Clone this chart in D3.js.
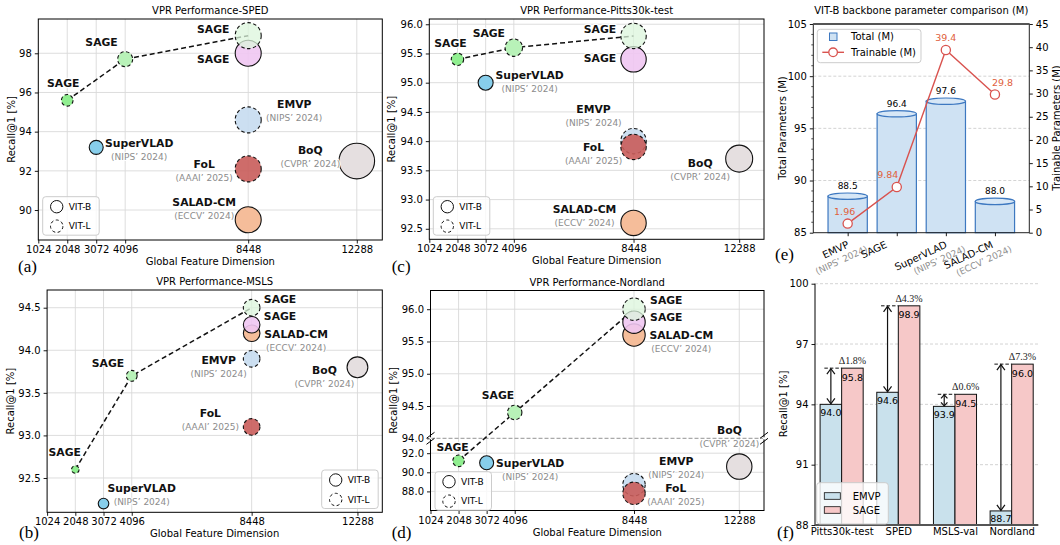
<!DOCTYPE html>
<html><head><meta charset="utf-8">
<script src="https://cdn.jsdelivr.net/npm/d3@7"></script>
<style>body{margin:0;background:#fff}svg{display:block}</style>
</head><body><svg id="c" width="1060" height="545"></svg>
<script>
// ================= DATA =================
const xTicks = [1024, 2048, 3072, 4096, 8448, 12288];
const pointNames  = ["SAGE","SAGE","SAGE","SAGE","EMVP","SuperVLAD","FoL","SALAD-CM","BoQ"];
const pointVenues = ["","","","","(NIPS’ 2024)","(NIPS’ 2024)","(AAAI’ 2025)","(ECCV’ 2024)","(CVPR’ 2024)"];
const pointDims   = [2048, 4096, 8448, 8448, 8448, 3072, 8448, 8448, 12288];
const pointBackbone = ["L","L","L","B","L","B","L","B","B"];
const spedRecall  = [95.6, 97.7, 98.9, 98.0, 94.6, 93.2, 92.1, 89.5, 92.5];
const pittsRecall = [95.4, 95.6, 95.8, 95.4, 94.0, 95.0, 93.9, 92.6, 93.7];
const mslsRecall  = [92.6, 93.7, 94.5, 94.3, 93.9, 92.2, 93.1, 94.2, 93.8];
const nordRecall  = [91.2, 94.4, 96.0, 95.8, 88.7, 91.0, 87.8, 95.6, 90.6];
const legendEntries = ["VIT-B", "VIT-L"];

const paramMethods = ["EMVP", "SAGE", "SuperVLAD", "SALAD-CM"];
const paramVenues  = ["(NIPS’ 2024)", "", "(NIPS’ 2024)", "(ECCV’ 2024)"];
const totalParams     = [88.5, 96.4, 97.6, 88.0];
const trainableParams = [1.96, 9.84, 39.4, 29.8];
const leftTicksE  = [85, 90, 95, 100, 105];
const rightTicksE = [0, 5, 10, 15, 20, 25, 30, 35, 40, 45];

const datasetsF = ["Pitts30k-test", "SPED", "MSLS-val", "Nordland"];
const emvpR1 = [94.0, 94.6, 93.9, 88.7];
const sageR1 = [95.8, 98.9, 94.5, 96.0];
const yTicksF = [88, 91, 94, 97, 100];

// ================= STYLE / LAYOUT =================
const F = '"DejaVu Sans", sans-serif';
const SERIF = '"Liberation Serif", "DejaVu Serif", serif';
const pointFill = ["#90ee90", "#b8f2b8", "#dcf6dc", "#efc6f2", "#c6dcef", "#87ceeb", "#c95c5a", "#f5bd9a", "#e5dfe0"];
const pointOpacity = [1, 1, 0.75, 0.9, 0.9, 1, 0.9, 1, 1];
const drawOrder = [8, 7, 5, 4, 6, 3, 0, 1, 2];
const svg = d3.select("#c");

function txt(g, x, y, s, o = {}) {
  const t = g.append("text").attr("x", x).attr("y", y).text(s)
    .attr("font-size", o.size || 10).attr("text-anchor", o.anchor || "start")
    .attr("fill", o.fill || "#000").attr("font-family", o.family || F);
  if (o.bold) t.attr("font-weight", "bold");
  if (o.halo) t.attr("stroke", "#fff").attr("stroke-width", o.halo).attr("paint-order", "stroke").attr("stroke-linejoin", "round");
  return t;
}
function styleAxis(ax, size) {
  ax.select(".domain").remove();
  ax.selectAll("text").attr("font-family", F).attr("font-size", size || 10).attr("fill", "#000");
  ax.selectAll("line").attr("stroke", "#000").attr("stroke-width", 0.9);
}

const xDomain = [1024, 13190];

function scatterPanel(c) {
  const g = svg.append("g");
  const x = d3.scaleLinear().domain(xDomain).range([c.l, c.r]);
  let y, yU, yL;
  if (c.broken) {
    yU = d3.scaleLinear().domain(c.upper).range([c.mid, c.t]);
    yL = d3.scaleLinear().domain(c.lower).range([c.b, c.mid]);
    y = v => v >= c.upper[0] - 0.01 ? yU(v) : yL(v);
  } else {
    y = d3.scaleLinear().domain(c.yDom).range([c.b, c.t]);
  }
  const rS = d3.scaleLinear().domain(c.rad.map(d => d[0])).range(c.rad.map(d => d[1]));
  const recall = c.values;

  // grid
  const grid = g.append("g").attr("stroke", "#d9d9d9").attr("stroke-width", 0.9);
  xTicks.slice(1).forEach(v => grid.append("line").attr("x1", x(v)).attr("x2", x(v)).attr("y1", c.t).attr("y2", c.b));
  const gy = c.broken ? c.yTicksU.concat(c.yTicksL) : c.yTicks;
  gy.forEach(v => { if (!(c.broken && v === c.upper[0])) grid.append("line").attr("x1", c.l).attr("x2", c.r).attr("y1", y(v)).attr("y2", y(v)); });
  if (c.broken) {
    g.append("line").attr("x1", c.l).attr("x2", c.r).attr("y1", c.mid).attr("y2", c.mid)
      .attr("stroke", "#888").attr("stroke-width", 0.9).attr("stroke-dasharray", "4,2");
  }

  // axes
  const axB = g.append("g").attr("transform", `translate(0,${c.b})`)
    .call(d3.axisBottom(x).tickValues(xTicks).tickFormat(d3.format("d")).tickSize(3.5).tickPadding(2.5));
  styleAxis(axB);
  if (c.broken) {
    const a1 = g.append("g").attr("transform", `translate(${c.l},0)`)
      .call(d3.axisLeft(yU).tickValues(c.yTicksU).tickFormat(d3.format(".1f")).tickSize(3.5).tickPadding(3));
    styleAxis(a1);
    const a2 = g.append("g").attr("transform", `translate(${c.l},0)`)
      .call(d3.axisLeft(yL).tickValues(c.yTicksL).tickFormat(d3.format(".1f")).tickSize(3.5).tickPadding(3));
    styleAxis(a2);
  } else {
    const a1 = g.append("g").attr("transform", `translate(${c.l},0)`)
      .call(d3.axisLeft(y).tickValues(c.yTicks).tickFormat(d3.format(c.yFmt)).tickSize(3.5).tickPadding(3));
    styleAxis(a1);
  }

  // SAGE ViT-L trend line
  const sageIdx = [0, 1, 2];
  g.append("path").attr("d", d3.line().x(i => x(pointDims[i])).y(i => y(recall[i]))(sageIdx))
    .attr("fill", "none").attr("stroke", "#111").attr("stroke-width", 1.5).attr("stroke-dasharray", "5,3");

  // points
  drawOrder.forEach(i => {
    g.append("circle").attr("cx", x(pointDims[i])).attr("cy", y(recall[i])).attr("r", rS(pointDims[i]))
      .attr("fill", pointFill[i]).attr("fill-opacity", pointOpacity[i])
      .attr("stroke", "#111").attr("stroke-width", 1.1)
      .attr("stroke-dasharray", pointBackbone[i] === "L" ? "3.5,2.5" : null);
  });

  // labels
  pointNames.forEach((n, i) => {
    const px = x(pointDims[i]) + c.lab[i][0], py = y(recall[i]) + c.lab[i][1];
    txt(g, px, py, n, { size: 10.8, bold: true, anchor: "middle", halo: 2.5, fill: "#111" });
    if (pointVenues[i]) txt(g, px, py + 13, pointVenues[i], { size: 9, anchor: "middle", fill: "#8c8c8c", halo: 2 });
  });

  // frame
  g.append("rect").attr("x", c.l).attr("y", c.t).attr("width", c.r - c.l).attr("height", c.b - c.t)
    .attr("fill", "none").attr("stroke", "#000").attr("stroke-width", 1);
  if (c.broken) {
    [c.l, c.r].forEach(sx => {
      [-3, 3].forEach(o => {
        g.append("line").attr("x1", sx - 4).attr("y1", c.mid + o + 3).attr("x2", sx + 4).attr("y2", c.mid + o - 3)
          .attr("stroke", "#000").attr("stroke-width", 1);
      });
      g.append("rect").attr("x", sx - 1).attr("y", c.mid - 1).attr("width", 2).attr("height", 2).attr("fill", "#fff");
    });
  }

  // legend
  const lg = g.append("g").attr("transform", `translate(${c.leg[0]},${c.leg[1]})`);
  lg.append("rect").attr("width", 56.5).attr("height", 38.5).attr("rx", 3)
    .attr("fill", "#fff").attr("fill-opacity", 0.8).attr("stroke", "#cccccc");
  legendEntries.forEach((t, k) => {
    lg.append("circle").attr("cx", 14).attr("cy", 10 + k * 19.5).attr("r", 6.2)
      .attr("fill", "none").attr("stroke", "#111").attr("stroke-width", 1)
      .attr("stroke-dasharray", k === 1 ? "3,2.5" : null);
    txt(lg, 26, 13.3 + k * 19.5, t, { size: 9 });
  });

  // titles
  txt(g, (c.l + c.r) / 2, c.t - 5, c.title, { size: 10, anchor: "middle" });
  txt(g, (c.l + c.r) / 2, c.b + 25, "Global Feature Dimension", { size: 10, anchor: "middle" });
  txt(g, 0, 0, "Recall@1 [%]", { size: 10, anchor: "middle" })
    .attr("transform", `translate(${c.l - c.ylOff},${(c.t + c.b) / 2}) rotate(-90)`);
  txt(g, c.letter[0], c.letter[1], c.letter[2], { size: 17, family: SERIF });
}

// (a) SPED
scatterPanel({
  title: "VPR Performance-SPED", values: spedRecall, l: 38.3, r: 382.3, t: 19, b: 240,
  yDom: [88.47, 99.75], yTicks: [90, 92, 94, 96, 98], yFmt: "d", ylOff: 23.5,
  rad: [[2048, 5.8], [3072, 7], [4096, 7.5], [8448, 13], [12288, 17.8]],
  lab: [[-4, -13.4], [-23.6, -12.8], [-35, -2.4], [-35, 10], [46, -11.6], [43, -0.7], [-44, -0.7], [-44, -14], [-46.5, -7]],
  leg: [42.7, 196.7], letter: [18, 272, "(a)"]
});
// (c) Pitts30k
scatterPanel({
  title: "VPR Performance-Pitts30k-test", values: pittsRecall, l: 429.3, r: 764, t: 19, b: 239.3,
  yDom: [92.32, 96.09], yTicks: [92.5, 93, 93.5, 94, 94.5, 95, 95.5, 96], yFmt: ".1f", ylOff: 34,
  rad: [[2048, 6.2], [3072, 7.5], [4096, 8.7], [8448, 12.7], [12288, 13.5]],
  lab: [[-7, -12.6], [-25, -10.4], [-33.6, -3], [-33.6, 2.4], [-40, -28], [44, -3.3], [-40, 4], [-49, -10], [-39, 8.5]],
  leg: [433.3, 196.7], letter: [391.7, 271.7, "(c)"]
});
// (b) MSLS
scatterPanel({
  title: "VPR Performance-MSLS", values: mslsRecall, l: 47.1, r: 382.3, t: 290, b: 512.3,
  yDom: [92.097, 94.708], yTicks: [92.5, 93, 93.5, 94, 94.5], yFmt: ".1f", ylOff: 33.6,
  rad: [[2048, 3.8], [3072, 5.3], [4096, 5.4], [8448, 8.3], [12288, 10.4]],
  lab: [[-10.6, -13], [-23.7, -8.6], [28.4, -4.4], [28.4, -4.7], [-33, 5.2], [38.2, -12], [-41.3, -10.2], [44.5, 5], [-33, 6.7]],
  leg: [321.7, 470], letter: [19, 538, "(b)"]
});
// (d) Nordland (broken axis)
scatterPanel({
  title: "VPR Performance-Nordland", values: nordRecall, l: 430.5, r: 764, t: 290.5, b: 510.5, mid: 438.3,
  broken: true, upper: [94, 96.29], lower: [86, 93.56],
  yTicksU: [94, 94.5, 95, 95.5, 96], yTicksL: [88, 90, 92], ylOff: 33.7,
  rad: [[2048, 5.8], [3072, 7], [4096, 7.2], [8448, 11.2], [12288, 12.7]],
  lab: [[-6, -10.3], [-16.7, -13.2], [32.3, -5], [32.3, -1.2], [42.3, -19.3], [43.5, 4], [41.8, -1], [47.3, 4.2], [-9.8, -32.7]],
  leg: [435, 471.7], letter: [391.7, 538, "(d)"]
});

// ================= (e) parameter comparison =================
(function () {
  const g = svg.append("g");
  const L = 813.3, R = 1029.3, T = 24, B = 232.7;
  const x = d3.scaleLinear().domain([-0.7, 3.7]).range([L, R]);
  const yl = d3.scaleLinear().domain([85, 105]).range([B, T]);
  const yr = d3.scaleLinear().domain([0, 45]).range([B, T]);
  const bw = x(0.8) - x(0);
  // grid
  [90, 95, 100].forEach(v => g.append("line").attr("x1", L).attr("x2", R).attr("y1", yl(v)).attr("y2", yl(v))
    .attr("stroke", "#c8c8c8").attr("stroke-width", 0.8).attr("stroke-dasharray", "3,2"));
  // bars (cylinders)
  totalParams.forEach((v, i) => {
    const cx = x(i);
    g.append("rect").attr("x", cx - bw / 2).attr("y", yl(v)).attr("width", bw).attr("height", B - yl(v))
      .attr("fill", "#cfe2f3").attr("stroke", "#3d78c0").attr("stroke-width", 1.2);
    g.append("ellipse").attr("cx", cx).attr("cy", yl(v)).attr("rx", bw / 2).attr("ry", 3.2)
      .attr("fill", "#d7e7f6").attr("stroke", "#3d78c0").attr("stroke-width", 1.2);
    txt(g, cx, yl(v) - 7, d3.format(".1f")(v), { size: 9, anchor: "middle" });
  });
  // trainable line
  g.append("path").attr("d", d3.line().x((d, i) => x(i)).y(d => yr(d))(trainableParams))
    .attr("fill", "none").attr("stroke", "#d9534f").attr("stroke-width", 1.4);
  const tOff = [[-3, -9], [-9, -9], [0, -9.3], [7.6, -8.3]];
  trainableParams.forEach((v, i) => {
    g.append("circle").attr("cx", x(i)).attr("cy", yr(v)).attr("r", 4.6)
      .attr("fill", "#fff").attr("stroke", "#d9534f").attr("stroke-width", 1.3);
    txt(g, x(i) + tOff[i][0], yr(v) + tOff[i][1], d3.format(".3")(v), { size: 9.5, anchor: "middle", fill: "#e0603c" });
  });
  // axes
  const aL = g.append("g").attr("transform", `translate(${L},0)`)
    .call(d3.axisLeft(yl).tickValues(leftTicksE).tickSize(3.5).tickPadding(3));
  styleAxis(aL);
  const minor = d3.range(86, 105).filter(v => v % 5 !== 0);
  minor.forEach(v => g.append("line").attr("x1", L).attr("x2", L - 2).attr("y1", yl(v)).attr("y2", yl(v)).attr("stroke", "#000").attr("stroke-width", 0.7));
  const aR = g.append("g").attr("transform", `translate(${R},0)`)
    .call(d3.axisRight(yr).tickValues(rightTicksE).tickSize(3.5).tickPadding(3));
  styleAxis(aR);
  const aB = g.append("g").attr("transform", `translate(0,${B})`)
    .call(d3.axisBottom(x).tickValues([0, 1, 2, 3]).tickFormat("").tickSize(3.5));
  styleAxis(aB);
  g.append("rect").attr("x", L).attr("y", T).attr("width", R - L).attr("height", B - T)
    .attr("fill", "none").attr("stroke", "#222").attr("stroke-width", 1);
  g.append("line").attr("x1", L).attr("x2", R).attr("y1", T).attr("y2", T).attr("stroke", "#555").attr("stroke-width", 1.8);
  // x labels
  const shift = [0, -11, 0, -3];
  paramMethods.forEach((n, i) => {
    const lg = g.append("g").attr("transform", `translate(${x(i) + shift[i] + 2},247) rotate(-25)`);
    txt(lg, 0, 0, n, { size: 10, anchor: "end" });
    if (paramVenues[i]) txt(lg, 15, 11.5, paramVenues[i], { size: 9, anchor: "end", fill: "#8f8f8f" });
  });
  // legend
  const lg = g.append("g").attr("transform", "translate(817.3,29.3)");
  lg.append("rect").attr("width", 103.7).attr("height", 33.4).attr("rx", 3).attr("fill", "#fff").attr("fill-opacity", 0.85).attr("stroke", "#cccccc");
  lg.append("rect").attr("x", 12.2).attr("y", 3.7).attr("width", 7.5).attr("height", 7.5).attr("fill", "#cfe2f3").attr("stroke", "#3d78c0");
  txt(lg, 33.7, 11.2, "Total (M)", { size: 10 });
  lg.append("line").attr("x1", 5).attr("x2", 26.7).attr("y1", 23).attr("y2", 23).attr("stroke", "#d9534f").attr("stroke-width", 1.4);
  lg.append("circle").attr("cx", 15.8).attr("cy", 23).attr("r", 4.3).attr("fill", "#fff").attr("stroke", "#d9534f").attr("stroke-width", 1.3);
  txt(lg, 33.7, 27.2, "Trainable (M)", { size: 10 });
  // titles
  txt(g, (L + R) / 2, 14, "VIT-B backbone parameter comparison (M)", { size: 10, anchor: "middle" });
  txt(g, 0, 0, "Total Parameters (M)", { size: 10, anchor: "middle" }).attr("transform", `translate(786,128) rotate(-90)`);
  txt(g, 0, 0, "Trainable Parameters (M)", { size: 10, anchor: "middle" }).attr("transform", `translate(1059.5,128) rotate(-90)`);
  txt(g, 775, 260, "(e)", { size: 17, family: SERIF });
})();

// ================= (f) EMVP vs SAGE =================
(function () {
  const g = svg.append("g");
  const L = 815, R = 1038.3, T = 283.7, B = 525;
  const x = d3.scaleLinear().domain([-0.47, 3.47]).range([L, R]);
  const y = d3.scaleLinear().domain([88, 100]).range([B, T]);
  const bw = x(0.38) - x(0);
  yTicksF.slice(1).forEach(v => g.append("line").attr("x1", L).attr("x2", R).attr("y1", y(v)).attr("y2", y(v))
    .attr("stroke", "#c8c8c8").attr("stroke-width", 0.8).attr("stroke-dasharray", "3,2"));
  datasetsF.forEach((d, i) => {
    const xe = x(i) - bw, xs = x(i);
    g.append("rect").attr("x", xe).attr("y", y(emvpR1[i])).attr("width", bw).attr("height", B - y(emvpR1[i]))
      .attr("fill", "#c9e1ec").attr("stroke", "#111").attr("stroke-width", 1);
    g.append("rect").attr("x", xs).attr("y", y(sageR1[i])).attr("width", bw).attr("height", B - y(sageR1[i]))
      .attr("fill", "#f6c8c8").attr("stroke", "#111").attr("stroke-width", 1);
    txt(g, xe + bw / 2, y(emvpR1[i]) + 11.5, d3.format(".1f")(emvpR1[i]), { size: 9.5, anchor: "middle" });
    txt(g, xs + bw / 2, y(sageR1[i]) + 12.5, d3.format(".1f")(sageR1[i]), { size: 9.5, anchor: "middle" });
    // dashed reference + arrow
    const ax = xe + bw / 2, y1 = y(sageR1[i]), y2 = y(emvpR1[i]);
    g.append("line").attr("x1", ax - 6.5).attr("x2", xs).attr("y1", y1).attr("y2", y1)
      .attr("stroke", "#111").attr("stroke-width", 1).attr("stroke-dasharray", "3.5,2");
    g.append("line").attr("x1", ax).attr("x2", ax).attr("y1", y1 + 0.5).attr("y2", y2 - 0.5).attr("stroke", "#111").attr("stroke-width", 1.2);
    const h = Math.min(6, (y2 - y1) / 3), w = Math.min(4, h * 0.8);
    g.append("path").attr("d", `M${ax - w},${y1 + h}L${ax},${y1 + 0.5}L${ax + w},${y1 + h}M${ax - w},${y2 - h}L${ax},${y2 - 0.5}L${ax + w},${y2 - h}`)
      .attr("fill", "none").attr("stroke", "#111").attr("stroke-width", 1.2);
    txt(g, xs + bw / 2, y1 - 4, "Δ" + d3.format(".1f")(sageR1[i] - emvpR1[i]) + "%", { size: 10, anchor: "middle", family: SERIF, fill: "#222" });
  });
  const aL = g.append("g").attr("transform", `translate(${L},0)`)
    .call(d3.axisLeft(y).tickValues(yTicksF).tickSize(3.5).tickPadding(3));
  styleAxis(aL);
  const aB = g.append("g").attr("transform", `translate(0,${B})`)
    .call(d3.axisBottom(x).tickValues([0, 1, 2, 3]).tickFormat((d, i) => datasetsF[i]).tickSize(0).tickPadding(3));
  styleAxis(aB);
  g.append("line").attr("x1", L).attr("x2", L).attr("y1", T).attr("y2", B).attr("stroke", "#000").attr("stroke-width", 1);
  g.append("line").attr("x1", L).attr("x2", R).attr("y1", B).attr("y2", B).attr("stroke", "#555").attr("stroke-width", 2);
  // legend
  const lg = g.append("g").attr("transform", "translate(816.7,482.7)");
  lg.append("rect").attr("width", 71.6).attr("height", 41.3).attr("rx", 3).attr("fill", "#fff").attr("fill-opacity", 0.8).attr("stroke", "#cccccc");
  [["EMVP", "#c9e1ec"], ["SAGE", "#f6c8c8"]].forEach((e, k) => {
    lg.append("rect").attr("x", 7.6).attr("y", 10 + k * 14).attr("width", 16).attr("height", 6.6).attr("fill", e[1]).attr("stroke", "#111").attr("stroke-width", 0.8);
    txt(lg, 36, 17.3 + k * 14, e[0], { size: 10 });
  });
  txt(g, 0, 0, "Recall@1 [%]", { size: 10, anchor: "middle" }).attr("transform", `translate(786.5,404) rotate(-90)`);
  txt(g, 777, 538, "(f)", { size: 17, family: SERIF });
})();
</script></body></html>
